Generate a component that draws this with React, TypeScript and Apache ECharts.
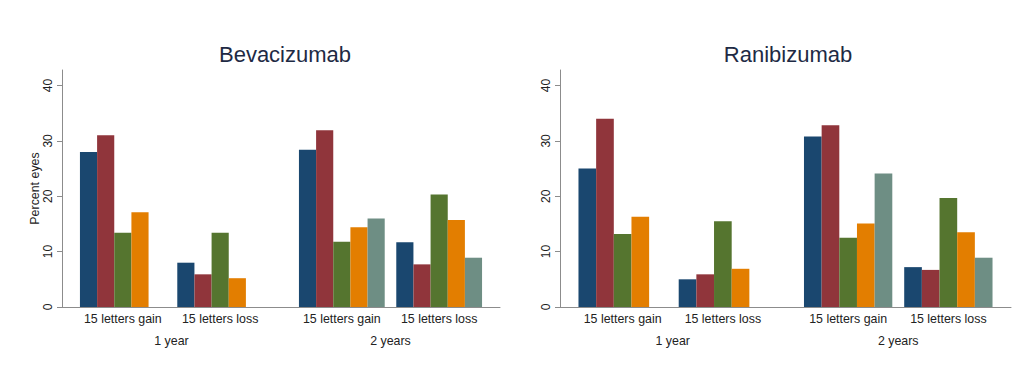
import React, { useEffect, useRef } from "react";
import * as echarts from "echarts";

// ---- data ----
const outcomes = ["15 letters gain", "15 letters loss"];
const periods = ["1 year", "2 years"];
const panelTitles = ["Bevacizumab", "Ranibizumab"];
const yTicks = [0, 10, 20, 30, 40];
const yAxisTitle = "Percent eyes";

// values per series, order: [1y gain, 1y loss, 2y gain, 2y loss]
const bevBlue = [28.0, 8.0, 28.4, 11.7];
const bevRed = [31.0, 5.9, 31.9, 7.7];
const bevGreen = [13.4, 13.4, 11.8, 20.3];
const bevOrange = [17.1, 5.2, 14.4, 15.7];
const bevTeal = [null, null, 16.0, 8.9];

const ranBlue = [25.0, 5.0, 30.8, 7.2];
const ranRed = [34.0, 5.9, 32.8, 6.7];
const ranGreen = [13.2, 15.5, 12.5, 19.7];
const ranOrange = [16.3, 6.9, 15.1, 13.5];
const ranTeal = [null, null, 24.1, 8.9];

const seriesNames = ["Series 1", "Series 2", "Series 3", "Series 4", "Series 5"];
const colors = ["#1a476f", "#90353b", "#55752f", "#e37e00", "#6e8e84"];

// ---- layout (spacer categories on the band axis) ----
const SLOT_COUNT = 18;
const barSlots = [2, 6, 11, 15];
const periodSlots = [4, 13];

const FONT = "'Liberation Sans', Arial, Helvetica, sans-serif";

function buildCats() {
  const cats: string[] = new Array(SLOT_COUNT).fill("");
  barSlots.forEach((s, i) => (cats[s] = outcomes[i % outcomes.length]));
  return cats;
}
function buildPeriodCats() {
  const cats: string[] = new Array(SLOT_COUNT).fill("");
  periodSlots.forEach((s, i) => (cats[s] = periods[i]));
  return cats;
}
function spread(vals: (number | null)[]) {
  const arr: any[] = new Array(SLOT_COUNT).fill("-");
  barSlots.forEach((s, i) => (arr[s] = vals[i] == null ? "-" : vals[i]));
  return arr;
}

export default function App() {
  const ref = useRef<HTMLDivElement>(null);
  useEffect(() => {
    if (!ref.current) return;
    const chart = echarts.init(ref.current, undefined, { renderer: "svg" });
    const cats = buildCats();
    const pcats = buildPeriodCats();
    const panels = [
      [bevBlue, bevRed, bevGreen, bevOrange, bevTeal],
      [ranBlue, ranRed, ranGreen, ranOrange, ranTeal],
    ];
    const grids = [
      { left: 62, width: 438, top: 70, height: 237 },
      { left: 560, width: 451, top: 70, height: 237 },
    ];
    const axisColor = "#8c8c8c";
    const textColor = "#222222";

    const xAxis: any[] = [];
    const yAxis: any[] = [];
    const series: any[] = [];
    grids.forEach((g, gi) => {
      xAxis.push({
        type: "category",
        gridIndex: gi,
        data: cats,
        boundaryGap: true,
        axisLine: { show: true, lineStyle: { color: axisColor, width: 1 } },
        axisTick: { show: false },
        axisLabel: {
          interval: 0,
          margin: 6,
          color: textColor,
          fontSize: 12.4,
          fontFamily: FONT,
        },
        splitLine: { show: false },
      });
      xAxis.push({
        type: "category",
        gridIndex: gi,
        data: pcats,
        position: "bottom",
        offset: 22,
        axisLine: { show: false },
        axisTick: { show: false },
        axisLabel: {
          interval: 0,
          margin: 6,
          color: textColor,
          fontSize: 12.4,
          fontFamily: FONT,
        },
        splitLine: { show: false },
      });
      yAxis.push({
        type: "value",
        gridIndex: gi,
        min: 0,
        max: 42.8,
        interval: 10,
        name: gi === 0 ? yAxisTitle : "",
        nameLocation: "middle",
        nameGap: 21,
        nameTextStyle: { color: textColor, fontSize: 12.4, fontFamily: FONT },
        axisLine: { show: true, lineStyle: { color: axisColor, width: 1 } },
        axisTick: {
          show: true,
          length: 5,
          lineStyle: { color: axisColor },
          customValues: yTicks,
        },
        axisLabel: {
          rotate: 90,
          margin: 8,
          color: textColor,
          fontSize: 12,
          fontFamily: FONT,
          customValues: yTicks,
        },
        splitLine: { show: false },
      });
      panels[gi].forEach((vals, si) => {
        series.push({
          type: "bar",
          name: seriesNames[si],
          xAxisIndex: gi * 2,
          yAxisIndex: gi,
          data: spread(vals),
          barWidth: "70.5%",
          barGap: "0%",
          itemStyle: { color: colors[si] },
        });
      });
    });

    chart.setOption({
      animation: false,
      backgroundColor: "#ffffff",
      grid: grids.map((g) => ({ ...g, containLabel: false })),
      xAxis,
      yAxis,
      series,
      graphic: [
        {
          type: "text",
          x: 285,
          y: 54.5,
          style: {
            text: panelTitles[0],
            align: "center",
            verticalAlign: "middle",
            fontSize: 22,
            fontFamily: FONT,
            fill: "#1e2a44",
          },
        },
        {
          type: "text",
          x: 788,
          y: 54.5,
          style: {
            text: panelTitles[1],
            align: "center",
            verticalAlign: "middle",
            fontSize: 22,
            fontFamily: FONT,
            fill: "#1e2a44",
          },
        },
      ],
    });
    return () => chart.dispose();
  }, []);
  return (
    <div
      ref={ref}
      style={{ position: "fixed", left: 0, top: 0, width: 1023, height: 374, background: "#fff" }}
    />
  );
}
